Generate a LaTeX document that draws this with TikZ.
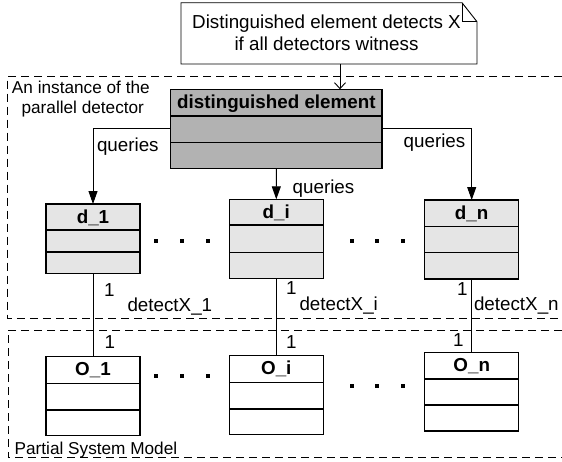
\documentclass[tikz,border=0pt]{standalone}
\usepackage{fontspec}
\setmainfont{Liberation Sans}
\usetikzlibrary{arrows.meta}
\begin{document}
\begin{tikzpicture}[x=1pt,y=-1pt,
  every node/.style={inner sep=0pt, outer sep=0pt},
  txt/.style={font=\fontsize{18.8}{21.7}\selectfont},
  lbl/.style={font=\fontsize{17.2}{20}\selectfont},
  ttl/.style={font=\fontsize{18.8}{21.7}\selectfont\bfseries, anchor=base},
  classbox/.style={draw=black, line width=1.1pt, minimum width=94pt},
  divider/.style={draw=black, line width=1.1pt},
  frame/.style={draw=black, line width=0.9pt, dash pattern=on 8pt off 5pt},
  conn/.style={draw=black, line width=0.9pt},
  qarrow/.style={conn, -{Triangle[length=13pt,width=9pt]}},
  openarrow/.style={conn, -{Straight Barb[length=6pt,width=11pt]}},
  dotmark/.style={fill=black, minimum size=4pt},
]
\useasboundingbox (0,0) rectangle (562,461);

% package frames (open on the right)
\draw[frame] (562,76) -- (7.5,76) -- (7.5,318) -- (562,318);
\draw[frame] (562,330) -- (8,330) -- (8,457.7) -- (562,457.7);
\node[lbl, anchor=base west] (fr1a) at (12,93) {An instance of the};
\node[lbl, anchor=base west] (fr1b) at (21.6,113) {parallel detector};
\node[lbl, anchor=base west] (fr2) at (14.7,454.3) {Partial System Model};

% note with folded corner
\node[minimum width=296pt, minimum height=61.3pt] (note) at (329,33.35) {};
\draw[conn, fill=white] (note.north west) -- ([xshift=-15pt]note.north east)
  -- ([yshift=-19pt]note.north east) -- (note.south east) -- (note.south west) -- cycle;
\draw[conn] ([xshift=-15pt]note.north east) -- ([xshift=-15pt,yshift=-19pt]note.north east)
  -- ([yshift=-19pt]note.north east);
\node[txt, anchor=base] (nt1) at (326.5,28.3) {Distinguished element detects X};
\node[txt, anchor=base] (nt2) at (326.5,50) {if all detectors witness};

% classes
\node[classbox, fill=black!30, minimum width=211.3pt, minimum height=79pt] (dist) at (276.35,128.8) {};
\node[classbox, fill=black!10, minimum height=69.3pt] (d1) at (93,238.65) {};
\node[classbox, fill=black!10, minimum height=79pt] (di) at (276.3,238.8) {};
\node[classbox, fill=black!10, minimum height=79pt] (dn) at (471.7,239.5) {};
\node[classbox, fill=white, minimum height=79pt] (o1) at (93,396.2) {};
\node[classbox, fill=white, minimum height=78.6pt] (oi) at (276.3,395) {};
\node[classbox, fill=white, minimum height=78.3pt] (on) at (471.7,391.85) {};

% compartment lines
\foreach \b/\p/\q in {dist/26.7/53.4, d1/26/48, di/25.7/53, dn/26.7/52.7,
                      o1/26.6/53.3, oi/26.6/53.3, on/26.3/52.3} {
  \draw[divider] ([yshift=-\p pt]\b.north west) -- ([yshift=-\p pt]\b.north east);
  \draw[divider] ([yshift=-\q pt]\b.north west) -- ([yshift=-\q pt]\b.north east);
}

% class names
\node[ttl] (distt) at ([yshift=-19pt]dist.north) {distinguished element};
\node[ttl] (d1t) at ([yshift=-19pt]d1.north) {d\_1};
\node[ttl] (dit) at ([yshift=-19pt]di.north) {d\_i};
\node[ttl] (dnt) at ([yshift=-19pt]dn.north) {d\_n};
\node[ttl] (o1t) at ([yshift=-19pt]o1.north) {O\_1};
\node[ttl] (oit) at ([yshift=-19pt]oi.north) {O\_i};
\node[ttl] (ont) at ([yshift=-19pt]on.north) {O\_n};

% connectors
\draw[openarrow] (note.south -| 340,0) -- (dist.north -| 340,0);
\draw[qarrow] (dist.west) -| (d1.north);
\draw[qarrow] (dist.east) -| (dn.north);
\draw[qarrow] (dist.south) -- (di.north);
\draw[conn] (d1.south) -- (o1.north);
\draw[conn] (di.south) -- (oi.north);
\draw[conn] (dn.south) -- (on.north);

% connector labels
\node[txt, anchor=base west] (q1) at (97,151) {queries};
\node[txt, anchor=base west] (q2) at (292.7,193) {queries};
\node[txt, anchor=base west] (q3) at (403.7,147) {queries};
\node[txt, anchor=base west] (m1a) at (104,296) {1};
\node[txt, anchor=base west] (m2a) at (286,294) {1};
\node[txt, anchor=base west] (m3a) at (457,295) {1};
\node[txt, anchor=base west] (m1b) at (104.7,348) {1};
\node[txt, anchor=base west] (m2b) at (286,348) {1};
\node[txt, anchor=base west] (m3b) at (453,346.7) {1};
\node[txt, anchor=base west] (x1) at (127.5,311.7) {detectX\_1};
\node[txt, anchor=base west] (x2) at (299.5,310) {detectX\_i};
\node[txt, anchor=base west] (x3) at (474,310) {detectX\_n};

% ellipses between the classes
\foreach \x [count=\k] in {156,181.7,208} {
  \node[dotmark] (ea\k) at (\x,240.7) {};
  \node[dotmark] (ec\k) at (\x,375.7) {};
}
\foreach \x [count=\k] in {352.3,377,402.7} {
  \node[dotmark] (eb\k) at (\x,240.7) {};
  \node[dotmark] (ed\k) at (\x,385.7) {};
}
\end{tikzpicture}
\end{document}
